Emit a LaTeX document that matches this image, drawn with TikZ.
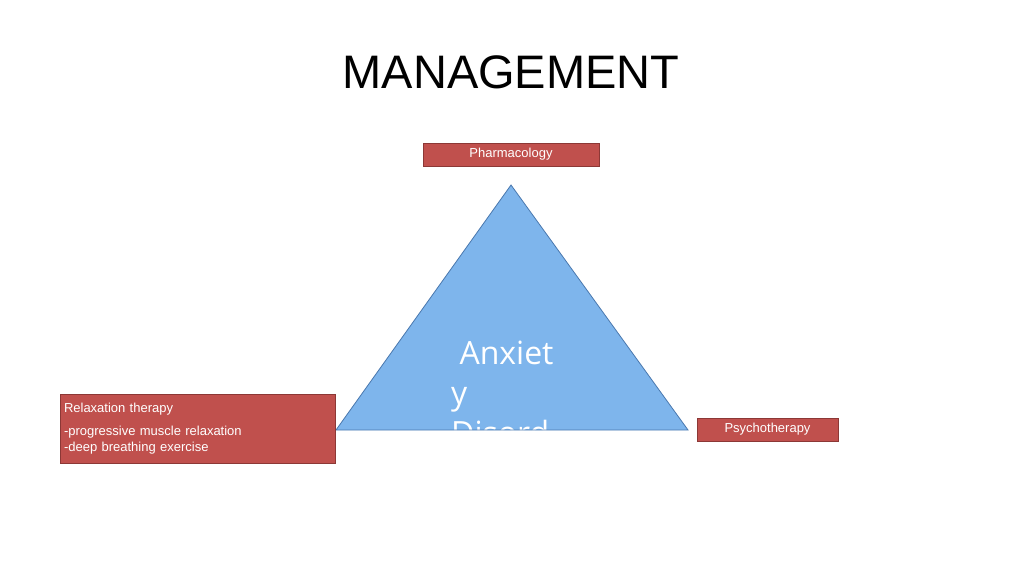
\documentclass[tikz,border=0pt]{standalone}
\usepackage{fontspec}
\setmainfont{Liberation Sans}
\newfontfamily\anx{Open Sans}
\begin{document}
\begin{tikzpicture}[x=1pt,y=-1pt,
  box/.style={draw=boxline,fill=boxred,text=white,font=\fontsize{13}{16}\selectfont,inner sep=0pt}]
\definecolor{boxred}{HTML}{C0504D}
\definecolor{boxline}{HTML}{8C3836}
\definecolor{tri}{HTML}{7EB5EC}
\definecolor{triline}{HTML}{4A78AE}
\useasboundingbox (0,0) rectangle (1024,575);
\node[font=\fontsize{47}{56}\selectfont] (title) at (511,72) {MANAGEMENT};
\coordinate (apex) at (511,185);
\coordinate (bl) at (336,430);
\coordinate (br) at (688,430);
\fill[tri] (apex) -- (bl) -- (br) -- cycle;
\begin{scope}
\clip (apex) -- (bl) -- (br) -- cycle;
\node[anchor=base west,text=white,font=\anx\fontsize{32}{40}\selectfont,inner sep=0pt] (a1) at (451,364) {\ Anxiet};
\node[anchor=base west,text=white,font=\anx\fontsize{32}{40}\selectfont,inner sep=0pt] (a2) at (451,404) {y};
\node[anchor=base west,text=white,font=\anx\fontsize{32}{40}\selectfont,inner sep=0pt] (a3) at (451,444) {Disord};
\end{scope}
\draw[triline,line width=0.8pt] (apex) -- (bl) -- (br) -- cycle;
\node[box,minimum width=176pt,minimum height=23pt] (ph) at (511,154.5) {Pharmacology};
\node[box,minimum width=141pt,minimum height=23pt] (ps) at (767.5,429.5) {Psychotherapy};
\node[box,minimum width=275pt,minimum height=69pt,align=left,text width=267pt,inner xsep=4pt] (rx) at (197.5,428.5)
 {\fontsize{13}{23}\selectfont Relaxation therapy\\-progressive muscle relaxation\\-deep breathing exercise};
\end{tikzpicture}
\end{document}
